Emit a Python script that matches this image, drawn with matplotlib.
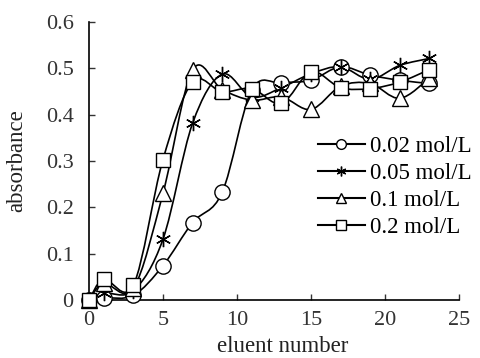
import numpy as np
import matplotlib
matplotlib.use('Agg')
import matplotlib.pyplot as plt
from matplotlib.path import Path
from matplotlib.patches import PathPatch
from matplotlib.lines import Line2D

plt.rcParams['font.family'] = ['Liberation Serif', 'DejaVu Serif']

eluent = [0, 1, 3, 5, 7, 9, 11, 13, 15, 17, 19, 21, 23]
abs_002 = [0.0, 0.005, 0.01, 0.074, 0.167, 0.232, 0.453, 0.468, 0.474, 0.503, 0.485, 0.474, 0.467]
abs_005 = [0.0, 0.015, 0.02, 0.131, 0.381, 0.487, 0.438, 0.458, 0.488, 0.503, 0.476, 0.506, 0.521]
abs_01 = [0.0, 0.036, 0.025, 0.23, 0.496, 0.454, 0.431, 0.438, 0.411, 0.461, 0.467, 0.435, 0.478]
abs_02 = [0.0, 0.045, 0.032, 0.303, 0.47, 0.449, 0.456, 0.424, 0.492, 0.458, 0.456, 0.47, 0.497]

labels = ['0.02 mol/L', '0.05 mol/L', '0.1 mol/L', '0.2 mol/L']
markers = ['o', (6, 2, 0), '^', 's']
sizes = [11, 11, 11, 10]


def smooth_path(x, y):
    # Excel-like smoothed line: Catmull-Rom as cubic Bezier segments
    p = np.column_stack([x, y]).astype(float)
    n = len(p)
    verts = [p[0]]
    codes = [Path.MOVETO]
    for i in range(n - 1):
        p0 = p[i - 1] if i > 0 else p[i]
        p3 = p[i + 2] if i + 2 < n else p[i + 1]
        c1 = p[i] + (p[i + 1] - p0) / 6.0
        c2 = p[i + 1] - (p3 - p[i]) / 6.0
        verts += [c1, c2, p[i + 1]]
        codes += [Path.CURVE4] * 3
    return Path(verts, codes)


fig = plt.figure(figsize=(4.81, 3.58), dpi=100)
ax = fig.add_axes([0.185, 0.162, 0.769, 0.777])

handles = []
for ys, lab, m, s in zip([abs_002, abs_005, abs_01, abs_02], labels, markers, sizes):
    ax.add_patch(PathPatch(smooth_path(eluent, ys), facecolor='none',
                           edgecolor='black', lw=1.2, zorder=2))
    ax.plot(eluent, ys, linestyle='none', marker=m, markersize=s, clip_on=False,
            markerfacecolor='white', markeredgecolor='black', markeredgewidth=1.0, zorder=3)
    handles.append(Line2D([], [], color='black', lw=1.5, marker=m, markersize=7,
                          markerfacecolor='white', markeredgecolor='black', markeredgewidth=1.0))

ax.set_xlim(0, 25)
ax.set_ylim(0, 0.6)
ax.set_xticks([0, 5, 10, 15, 20, 25])
ax.set_yticks([0, 0.1, 0.2, 0.3, 0.4, 0.5, 0.6])
ax.set_yticklabels(['0', '0.1', '0.2', '0.3', '0.4', '0.5', '0.6'])
ax.spines['top'].set_visible(False)
ax.spines['right'].set_visible(False)
for sp in ['left', 'bottom']:
    ax.spines[sp].set_linewidth(1.2)
ax.tick_params(direction='in', length=4, width=1, labelsize=16, colors='#333333')
ax.tick_params(axis='y', pad=11)
ax.tick_params(axis='x', pad=8)
ax.set_xlabel('eluent number', fontsize=16.5, color='#222222')
ax.set_ylabel('absorbance', fontsize=16.5, color='#222222')
ax.xaxis.set_label_coords(0.524, -0.167)
ax.xaxis.label.set_va('center')
ax.yaxis.set_label_coords(-0.195, 0.5)
ax.yaxis.label.set_va('center')

fig.legend(handles=handles, labels=labels, loc='upper left',
           bbox_to_anchor=(0.661, 0.619), frameon=False, fontsize=16.5,
           handlelength=2.05, handletextpad=0.2, labelspacing=0.26,
           borderpad=0, borderaxespad=0)

fig.savefig('out.png', dpi=100)
